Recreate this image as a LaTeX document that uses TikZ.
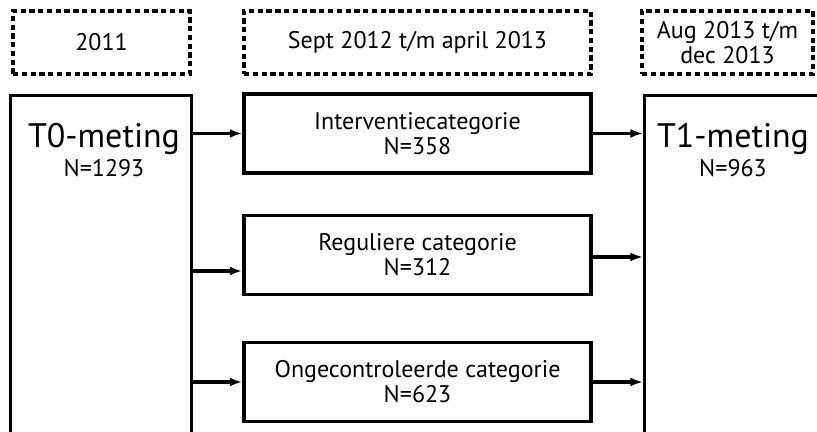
\documentclass[tikz,border=0pt]{standalone}
\usepackage{fontspec}
\setmainfont{PT Sans}
\usetikzlibrary{calc,arrows.meta}

\begin{document}
\begin{tikzpicture}[x=0.03cm,y=-0.03cm,
		periode/.style={draw,line width=2.6pt,dash pattern=on 4.5pt off 3pt,minimum height=1.89cm,align=center,font=\fontsize{20.5}{21}\selectfont},
		groep/.style={draw,line width=2.6pt,minimum width=10.41cm,minimum height=2.37cm,align=center,font=\fontsize{20.5}{21.3}\selectfont},
		meting/.style={draw,line width=2.6pt,anchor=north west,minimum height=12cm},
		pijl/.style={line width=2.6pt,-{Latex[length=0.38cm,width=0.27cm]}}]
		\useasboundingbox (0,0) rectangle (817,432);
		\clip (0,0) rectangle (817,432);
		% perioden
		\node (P0) at (101.5,42.5) [periode,minimum width=5.31cm] {2011};
		\node (P1) at (417.5,42.5) [periode,minimum width=10.41cm] {Sept 2012 t/m april 2013};
		\node (P2) at (727.5,42.5) [periode,minimum width=5.13cm] {Aug 2013 t/m\\dec 2013};
		% metingen
		\node (T0) at (9,94)   [meting,minimum width=5.43cm] {};
		\node (T1) at (643,94) [meting,minimum width=8cm] {};
		\node (T0t) at (104,150) [align=center,font=\fontsize{20.5}{24}\selectfont] {{\fontsize{29}{24}\selectfont T0-meting}\\N=1293};
		\node (T1t) at (733,150) [align=center,font=\fontsize{20.5}{24}\selectfont] {{\fontsize{29}{24}\selectfont T1-meting}\\N=963};
		% categorieen
		\node (G1) at (417.5,133.5) [groep] {Interventiecategorie\\N=358};
		\node (G2) at (417.5,255)   [groep] {Reguliere categorie\\N=312};
		\node (G3) at (417.5,382)   [groep] {Ongecontroleerde categorie\\N=623};
		% pijlen
		\draw[pijl] (T0.east |- G1.west) -- (G1.west);
		\draw[pijl] ($(T0.east |- G2.west)+(0,16)$) -- ($(G2.west)+(0,16)$);
		\draw[pijl] (T0.east |- G3.west) -- (G3.west);
		\draw[pijl] (G1.east) -- (T1.west |- G1.east);
		\draw[pijl] ($(G2.east)+(0,2)$) -- ($(T1.west |- G2.east)+(0,2)$);
		\draw[pijl] (G3.east) -- (T1.west |- G3.east);
	\end{tikzpicture}
\end{document}
